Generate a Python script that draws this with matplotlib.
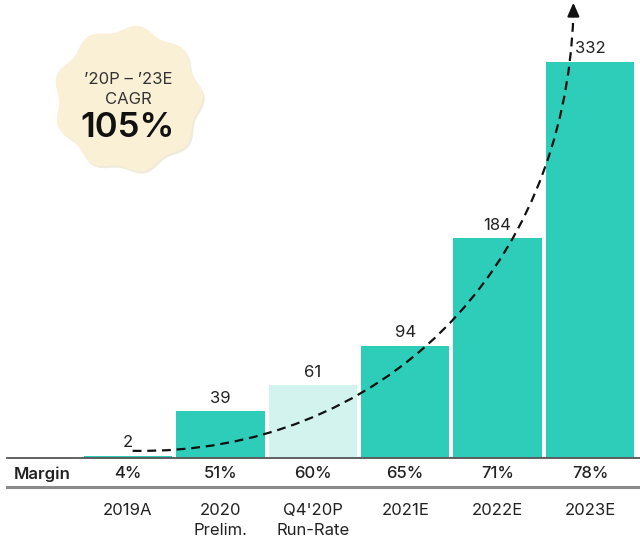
import numpy as np
import matplotlib.pyplot as plt
from matplotlib.path import Path
from matplotlib.patches import PathPatch, Polygon

plt.rcParams['font.family'] = ['Inter', 'DejaVu Sans']

# Chart data
categories = ['2019A', '2020\nPrelim.', "Q4'20P\nRun-Rate", '2021E', '2022E', '2023E']
values = [2, 39, 61, 94, 184, 332]
margins = ['4%', '51%', '60%', '65%', '71%', '78%']
highlight = [False, False, True, False, False, False]
cagr_label = '105%'

teal = '#2ECDB9'
light_teal = '#D3F4EE'
text_col = '#222222'

fig = plt.figure(figsize=(6.4, 5.42), dpi=100)

# Background axes in pixel units for the badge
bg = fig.add_axes([0, 0, 1, 1])
bg.set_xlim(0, 640)
bg.set_ylim(542, 0)
bg.axis('off')

# Main axes: bars
ax = fig.add_axes([0, 1 - 458 / 542, 1, 458 / 542])
ax.set_xlim(-128 / 92.4, (640 - 128) / 92.4)
ax.set_ylim(0, 458 / 1.193)
ax.axis('off')

x = np.arange(len(values))
colors = [light_teal if h else teal for h in highlight]
ax.bar(x, values, width=0.955, color=colors, zorder=2)

for xi, v in zip(x, values):
    ax.annotate(str(v), (xi, v), xytext=(0, 4), textcoords='offset points',
                ha='center', va='bottom', fontsize=12, color=text_col)

# Lines of the margin table
ax.axhline(0, xmin=7 / 640, color='#555555', lw=1.3, clip_on=False, zorder=3)
ax.axhline(-24.5, xmin=7 / 640, color='#8a8a8a', lw=2.2, clip_on=False)

ax.text(-128 / 92.4 + 14 / 92.4, -13.4, 'Margin', ha='left', va='center',
        fontsize=12, fontweight='semibold', color=text_col)
for xi, m in zip(x, margins):
    ax.text(xi, -13.4, m, ha='center', va='center', fontsize=12,
            fontweight='medium', color=text_col)
for xi, c in zip(x, categories):
    ax.text(xi, -37.5, c, ha='center', va='top', fontsize=12,
            color=text_col, linespacing=1.45)

# Dashed growth curve (cubic bezier) with arrow head
verts = [(0.05, 6), (2.73, 2.5), (4.73, 157), (4.82, 372)]
codes = [Path.MOVETO, Path.CURVE4, Path.CURVE4, Path.CURVE4]
curve = PathPatch(Path(verts, codes), fill=False, lw=1.6, ls=(0, (4, 2.6)),
                  color='#111111', zorder=4)
ax.add_patch(curve)
ax.annotate('', xy=(4.82, 384), xytext=(4.82, 368),
            arrowprops=dict(arrowstyle='-|>,head_length=0.8,head_width=0.35',
                            color='#111111', lw=1.6), zorder=5)

# Scalloped CAGR badge
theta = np.linspace(0, 2 * np.pi, 400)
r = 72 + 3.2 * np.cos(9 * theta + 0.3)
bx = 128 + r * np.cos(theta)
by = 99 + r * np.sin(theta) * 0.98
bg.add_patch(Polygon(np.column_stack([bx + 1.5, by + 2]), closed=True,
                     color='#e6dcc4', alpha=0.6, lw=0))
bg.add_patch(Polygon(np.column_stack([bx, by]), closed=True,
                     color='#FAF0D6', lw=0))
bg.text(128, 79, '\u201920P \u2013 \u201923E', ha='center', va='center',
        fontsize=12, color='#333333')
bg.text(128, 100, 'CAGR', ha='center', va='center', fontsize=12, color='#333333')
bg.text(128, 128, cagr_label, ha='center', va='center', fontsize=25,
        fontweight='semibold', color='#111111')

fig.savefig('out.png', dpi=100)
